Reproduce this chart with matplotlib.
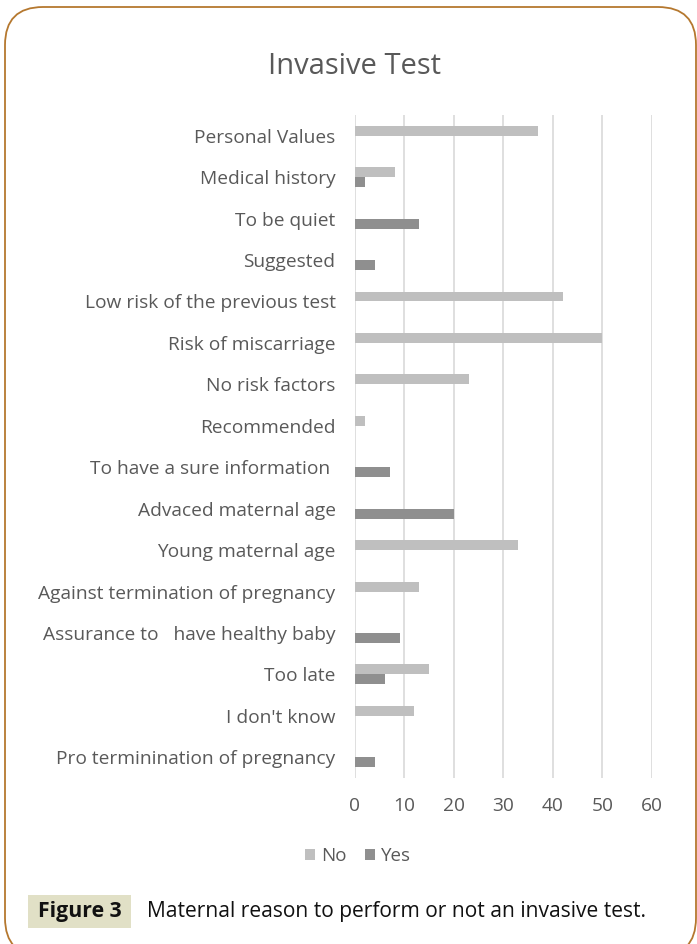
import numpy as np
import matplotlib.pyplot as plt
from matplotlib.patches import FancyBboxPatch, Rectangle

reasons = ["Personal Values", "Medical history", "To be quiet", "Suggested",
           "Low risk of the previous test", "Risk of miscarriage", "No risk factors",
           "Recommended", "To have a sure information ", "Advaced maternal age",
           "Young maternal age", "Against termination of pregnancy",
           "Assurance to   have healthy baby", "Too late", "I don't know",
           "Pro terminination of pregnancy"]
no_vals = [37, 8, 0, 0, 42, 50, 23, 2, 0, 0, 33, 13, 0, 15, 12, 0]
yes_vals = [0, 2, 13, 4, 0, 0, 0, 0, 7, 20, 0, 0, 9, 6, 0, 4]
xticks = [0, 10, 20, 30, 40, 50, 60]

plt.rcParams['font.family'] = ['Open Sans', 'DejaVu Sans']

W, H = 697, 944
fig = plt.figure(figsize=(W / 100, H / 100), dpi=100)

# background axes in pixel units (y measured from the bottom) for frame and caption box
bg = fig.add_axes([0, 0, 1, 1])
bg.set_xlim(0, W)
bg.set_ylim(0, H)
bg.axis('off')
bg.add_patch(FancyBboxPatch((5, -12), 691, H - 7 + 12, boxstyle="round,pad=0,rounding_size=38",
                            fill=False, edgecolor='#b5782f', linewidth=1.3, clip_on=False))
bg.add_patch(Rectangle((28, H - 928), 103, 33, facecolor='#e1e0c6', edgecolor='none'))

ax = fig.add_axes([355 / W, 1 - 778 / H, 297 / W, 663 / H])
y = np.arange(len(reasons))
h = 0.24
ax.barh(y - h / 2, no_vals, height=h, color='#bfbfbf', label='No')
ax.barh(y + h / 2, yes_vals, height=h, color='#8f8f8f', label='Yes')
ax.set_ylim(len(reasons) - 0.5, -0.5)
ax.set_xlim(0, 60)
ax.set_xticks(xticks)
ax.set_yticks(y)
ax.set_yticklabels(reasons)
ax.grid(axis='x', color='#d9d9d9', linewidth=1.2)
ax.set_axisbelow(True)
for s in ax.spines.values():
    s.set_visible(False)
ax.tick_params(length=0, labelsize=13.8, colors='#595959')
ax.tick_params(axis='y', pad=14)
ax.tick_params(axis='x', pad=14)

fig.text(355 / W, 1 - 67 / H, "Invasive Test", ha='center', va='center',
         fontsize=21, color='#595959')

leg = fig.legend(loc='center', bbox_to_anchor=(358 / W, 1 - 856 / H), ncol=2,
                 frameon=False, fontsize=13.5, handlelength=0.55, handleheight=0.55,
                 handletextpad=0.3, columnspacing=1.0)
for t in leg.get_texts():
    t.set_color('#595959')

fig.text(79.5 / W, 1 - 912 / H, "Figure 3", ha='center', va='center',
         fontsize=15.3, fontweight='bold', color='#111111')
fig.text(147 / W, 1 - 912 / H, "Maternal reason to perform or not an invasive test.",
         ha='left', va='center', fontsize=15.1, color='#111111')

fig.savefig('out.png', dpi=100)
